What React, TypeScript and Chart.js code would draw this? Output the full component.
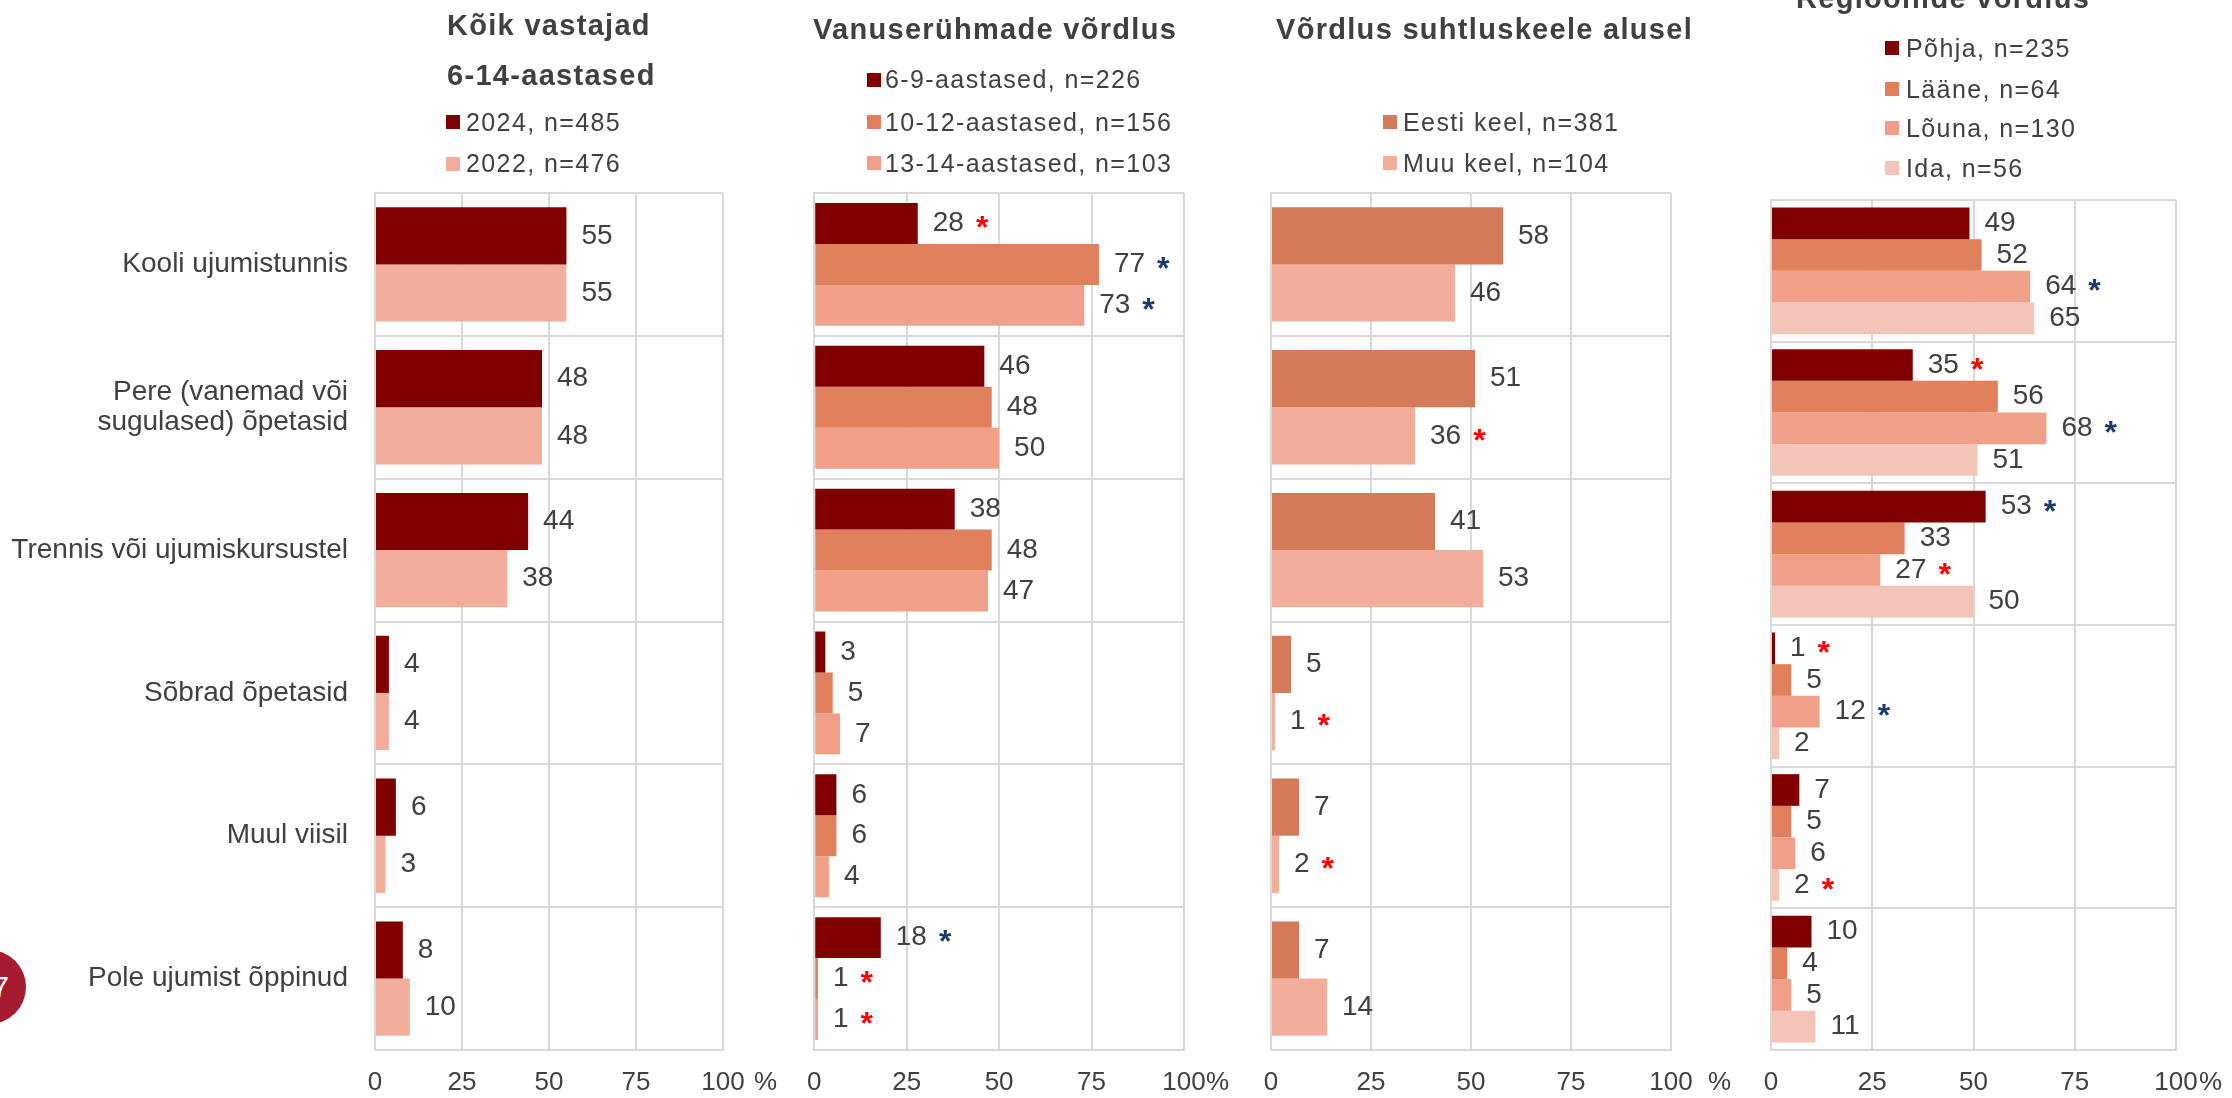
import React, { useEffect, useRef } from 'react';
import { Chart, registerables } from 'chart.js';

Chart.register(...registerables);

const FONT = '"Liberation Sans", Arial, Helvetica, sans-serif';
const TEXT = '#404040';
const GRID = '#D9D9D9';
const RED = '#FF0000';
const BLUE = '#1F3A6E';
const W = 2232;
const H = 1098;

// ---------- shared data ----------
const categories: (string | string[])[] = [
  'Kooli ujumistunnis',
  ['Pere (vanemad või', 'sugulased) õpetasid'],
  'Trennis või ujumiskursustel',
  'Sõbrad õpetasid',
  'Muul viisil',
  'Pole ujumist õppinud',
];
const xTickValues = [0, 25, 50, 75, 100];
const unitText = '%';

// ---------- panel 1: Kõik vastajad ----------
const p1Title = 'Kõik vastajad';
const p1Subtitle = '6-14-aastased';
const p1Series = ['2024, n=485', '2022, n=476'];
const p1Values2024 = [55, 48, 44, 4, 6, 8];
const p1Values2022 = [55, 48, 38, 4, 3, 10];
const p1Sig2024 = ['', '', '', '', '', ''];
const p1Sig2022 = ['', '', '', '', '', ''];
const p1Colors = ['#800000', '#F2AE9A'];

// ---------- panel 2: Vanuserühmade võrdlus ----------
const p2Title = 'Vanuserühmade võrdlus';
const p2Series = ['6-9-aastased, n=226', '10-12-aastased, n=156', '13-14-aastased, n=103'];
const p2Values6to9 = [28, 46, 38, 3, 6, 18];
const p2Values10to12 = [77, 48, 48, 5, 6, 1];
const p2Values13to14 = [73, 50, 47, 7, 4, 1];
const p2Sig6to9 = ['r', '', '', '', '', 'b'];
const p2Sig10to12 = ['b', '', '', '', '', 'r'];
const p2Sig13to14 = ['b', '', '', '', '', 'r'];
const p2Colors = ['#800000', '#E0805C', '#F0A088'];

// ---------- panel 3: Võrdlus suhtluskeele alusel ----------
const p3Title = 'Võrdlus suhtluskeele alusel';
const p3Series = ['Eesti keel, n=381', 'Muu keel, n=104'];
const p3ValuesEesti = [58, 51, 41, 5, 7, 7];
const p3ValuesMuu = [46, 36, 53, 1, 2, 14];
const p3SigEesti = ['', '', '', '', '', ''];
const p3SigMuu = ['', 'r', '', 'r', 'r', ''];
const p3Colors = ['#D47A58', '#F2AE9A'];

// ---------- panel 4: Regioonide võrdlus ----------
const p4Title = 'Regioonide võrdlus';
const p4Series = ['Põhja, n=235', 'Lääne, n=64', 'Lõuna, n=130', 'Ida, n=56'];
const p4ValuesPohja = [49, 35, 53, 1, 7, 10];
const p4ValuesLaane = [52, 56, 33, 5, 5, 4];
const p4ValuesLouna = [64, 68, 27, 12, 6, 5];
const p4ValuesIda = [65, 51, 50, 2, 2, 11];
const p4SigPohja = ['', 'r', 'b', 'r', '', ''];
const p4SigLaane = ['', '', '', '', '', ''];
const p4SigLouna = ['b', 'b', 'r', 'b', '', ''];
const p4SigIda = ['', '', '', '', 'r', ''];
const p4Colors = ['#800000', '#E0805C', '#F0A088', '#F5C4B8'];

// ---------- plugins ----------
const valueLabelPlugin = {
  id: 'valueLabels',
  afterDatasetsDraw(chart: any, _args: any, opts: any) {
    const ctx = chart.ctx as CanvasRenderingContext2D;
    const sigs: string[][] = opts.sigs || [];
    ctx.save();
    chart.data.datasets.forEach((ds: any, di: number) => {
      const meta = chart.getDatasetMeta(di);
      meta.data.forEach((bar: any, i: number) => {
        const txt = String(ds.data[i]);
        ctx.font = `28px ${FONT}`;
        ctx.fillStyle = TEXT;
        ctx.textAlign = 'left';
        ctx.textBaseline = 'middle';
        const x = bar.x + 15;
        ctx.fillText(txt, x, bar.y);
        const s = sigs[di] ? sigs[di][i] : '';
        if (s) {
          const w = ctx.measureText(txt).width;
          ctx.font = `bold 32px ${FONT}`;
          ctx.fillStyle = s === 'r' ? RED : BLUE;
          ctx.fillText('*', x + w + 12, bar.y + 6);
        }
      });
    });
    ctx.restore();
  },
};

const TICK_PAD = 17;
const TICK_SIZE = 26;

const unitPlugin = {
  id: 'unitLabel',
  afterDraw(chart: any, _args: any, opts: any) {
    const ctx = chart.ctx as CanvasRenderingContext2D;
    const sc = chart.scales.x;
    const x = sc.getPixelForValue(100) + (opts.dx || 0);
    const y = chart.chartArea.bottom + TICK_PAD + (TICK_SIZE * 1.2) / 2;
    ctx.save();
    ctx.font = `${TICK_SIZE}px ${FONT}`;
    ctx.fillStyle = TEXT;
    ctx.textAlign = 'left';
    ctx.textBaseline = 'middle';
    ctx.fillText(unitText, x, y);
    ctx.restore();
  },
};

// ---------- panel layouts ----------
interface PanelCfg {
  series: string[];
  values: number[][];
  sigs: string[][];
  colors: string[];
  canvasLeft: number;
  canvasWidth: number;
  plotLeft: number;
  plotRight: number;
  plotTop: number;
  plotBottom: number;
  showYLabels: boolean;
  catPct: number;
  unitDx: number;
}

const panels: PanelCfg[] = [
  {
    series: p1Series,
    values: [p1Values2024, p1Values2022],
    sigs: [p1Sig2024, p1Sig2022],
    colors: p1Colors,
    canvasLeft: 0, canvasWidth: 790,
    plotLeft: 375, plotRight: 723, plotTop: 193, plotBottom: 1050,
    showYLabels: true, catPct: 0.8, unitDx: 31,
  },
  {
    series: p2Series,
    values: [p2Values6to9, p2Values10to12, p2Values13to14],
    sigs: [p2Sig6to9, p2Sig10to12, p2Sig13to14],
    colors: p2Colors,
    canvasLeft: 790, canvasWidth: 440,
    plotLeft: 811, plotRight: 1184, plotTop: 193, plotBottom: 1050,
    showYLabels: false, catPct: 0.86, unitDx: 22,
  },
  {
    series: p3Series,
    values: [p3ValuesEesti, p3ValuesMuu],
    sigs: [p3SigEesti, p3SigMuu],
    colors: p3Colors,
    canvasLeft: 1230, canvasWidth: 505,
    plotLeft: 1271, plotRight: 1671, plotTop: 193, plotBottom: 1050,
    showYLabels: false, catPct: 0.8, unitDx: 37,
  },
  {
    series: p4Series,
    values: [p4ValuesPohja, p4ValuesLaane, p4ValuesLouna, p4ValuesIda],
    sigs: [p4SigPohja, p4SigLaane, p4SigLouna, p4SigIda],
    colors: p4Colors,
    canvasLeft: 1735, canvasWidth: 497,
    plotLeft: 1771, plotRight: 2176, plotTop: 200, plotBottom: 1050,
    showYLabels: false, catPct: 0.894, unitDx: 23,
  },
];

function Panel({ cfg }: { cfg: PanelCfg }) {
  const ref = useRef<HTMLCanvasElement | null>(null);
  useEffect(() => {
    if (!ref.current) return;
    const yw = cfg.showYLabels ? cfg.plotLeft - cfg.canvasLeft : 0;
    const chart = new Chart(ref.current, {
      type: 'bar',
      data: {
        labels: categories as any,
        datasets: cfg.values.map((vals, i) => ({
          label: cfg.series[i],
          data: vals,
          backgroundColor: cfg.colors[i],
          borderWidth: 0,
          categoryPercentage: cfg.catPct,
          barPercentage: 1,
        })),
      },
      options: {
        indexAxis: 'y',
        responsive: false,
        animation: false,
        devicePixelRatio: 1,
        layout: {
          padding: {
            left: cfg.plotLeft - cfg.canvasLeft - yw,
            right: cfg.canvasLeft + cfg.canvasWidth - cfg.plotRight,
            top: cfg.plotTop,
            bottom: 0,
          },
        },
        plugins: {
          legend: { display: false },
          tooltip: { enabled: false },
          title: { display: false },
          valueLabels: { sigs: cfg.sigs },
          unitLabel: { dx: cfg.unitDx },
        } as any,
        scales: {
          x: {
            type: 'linear',
            min: 0,
            max: 100,
            afterBuildTicks: (s: any) => {
              s.ticks = xTickValues.map((v) => ({ value: v }));
            },
            grid: { color: GRID, lineWidth: 2, drawTicks: false },
            border: { color: GRID, width: 2 },
            ticks: {
              color: TEXT,
              font: { family: FONT, size: TICK_SIZE, lineHeight: 1.2 },
              padding: TICK_PAD,
              maxRotation: 0,
              callback: (v: any) => String(v),
            },
            afterFit: (s: any) => {
              s.height = H - cfg.plotBottom;
            },
          },
          y: {
            type: 'category',
            offset: true,
            grid: { color: GRID, lineWidth: 2, drawTicks: false, offset: true },
            border: { color: GRID, width: 2 },
            ticks: {
              display: cfg.showYLabels,
              color: TEXT,
              font: { family: FONT, size: 28, lineHeight: 1.07 },
              padding: 27,
              autoSkip: false,
            },
            afterFit: (s: any) => {
              s.width = yw;
            },
          },
        } as any,
      },
      plugins: [valueLabelPlugin, unitPlugin],
    });
    return () => chart.destroy();
  }, [cfg]);
  return (
    <canvas
      ref={ref}
      width={cfg.canvasWidth}
      height={H}
      style={{ position: 'absolute', left: cfg.canvasLeft, top: 0, width: cfg.canvasWidth, height: H }}
    />
  );
}

const TITLE_SIZE = 29;
const LEGEND_SIZE = 25;

function Title({ text, left, cy }: { text: string; left: number; cy: number }) {
  return (
    <div
      style={{
        position: 'absolute',
        left,
        top: cy - TITLE_SIZE / 2,
        fontFamily: FONT,
        fontWeight: 'bold',
        fontSize: TITLE_SIZE,
        lineHeight: `${TITLE_SIZE}px`,
        letterSpacing: '1.3px',
        color: TEXT,
        whiteSpace: 'nowrap',
      }}
    >
      {text}
    </div>
  );
}

function Legend({ items, colors, boxX, textX, rows }: { items: string[]; colors: string[]; boxX: number; textX: number; rows: number[] }) {
  return (
    <>
      {items.map((t, i) => (
        <React.Fragment key={t}>
          <div style={{ position: 'absolute', left: boxX, top: rows[i] - 7, width: 14, height: 14, background: colors[i] }} />
          <div
            style={{
              position: 'absolute',
              left: textX,
              top: rows[i] - LEGEND_SIZE / 2,
              fontFamily: FONT,
              fontSize: LEGEND_SIZE,
              lineHeight: `${LEGEND_SIZE}px`,
              letterSpacing: '1.4px',
              color: TEXT,
              whiteSpace: 'nowrap',
            }}
          >
            {t}
          </div>
        </React.Fragment>
      ))}
    </>
  );
}

export default function App() {
  return (
    <div style={{ position: 'absolute', left: 0, top: 0, width: W, height: H, overflow: 'hidden', background: '#fff' }}>
      {panels.map((p, i) => (
        <Panel key={i} cfg={p} />
      ))}
      <Title text={p1Title} left={447} cy={25.5} />
      <Title text={p1Subtitle} left={447} cy={75.5} />
      <Legend items={p1Series} colors={p1Colors} boxX={446} textX={466} rows={[122, 163.5]} />
      <Title text={p2Title} left={813} cy={29} />
      <Legend items={p2Series} colors={p2Colors} boxX={867} textX={885} rows={[79.5, 122, 163]} />
      <Title text={p3Title} left={1276} cy={29} />
      <Legend items={p3Series} colors={p3Colors} boxX={1383} textX={1403} rows={[122, 163]} />
      <Title text={p4Title} left={1796} cy={-1.5} />
      <Legend items={p4Series} colors={p4Colors} boxX={1885} textX={1906} rows={[48, 89, 128, 168]} />
      <div
        style={{
          position: 'absolute',
          left: -48,
          top: 950,
          width: 74,
          height: 74,
          borderRadius: '50%',
          background: '#A51C30',
          color: '#fff',
          fontFamily: FONT,
          fontSize: 30,
          lineHeight: '74px',
          textAlign: 'right',
          paddingRight: 17,
          boxSizing: 'border-box',
        }}
      >
        7
      </div>
    </div>
  );
}
